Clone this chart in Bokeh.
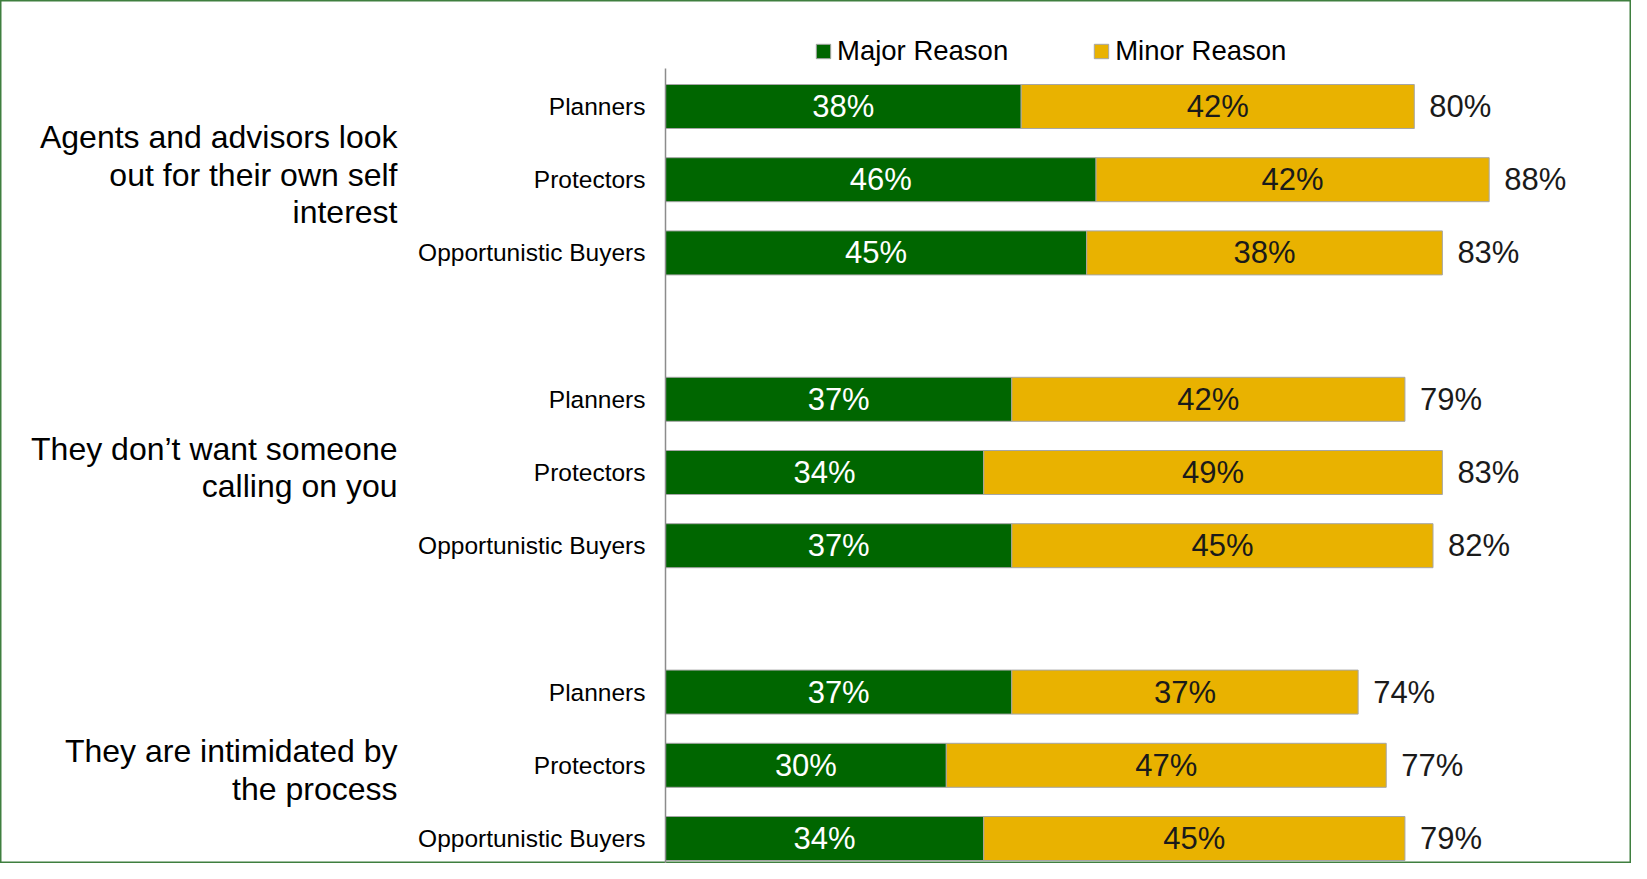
from bokeh.plotting import figure
from bokeh.models import Range1d, ColumnDataSource, Legend, LegendItem
from bokeh.core.properties import value
from bokeh.embed import file_html
from bokeh.resources import INLINE

# ---- data ----
groups = [
    "Agents and advisors look\nout for their own self\ninterest",
    "They don\u2019t want someone\ncalling on you",
    "They are intimidated by\nthe process",
]
segments = ["Planners", "Protectors", "Opportunistic Buyers"]
major = [38, 46, 45, 37, 34, 37, 37, 30, 34]
minor = [42, 42, 38, 42, 49, 45, 37, 47, 45]
series_names = ["Major Reason", "Minor Reason"]
series_colors = ["#006600", "#E9B200"]

# ---- layout constants (pixels) ----
W, H = 1631, 863
PX_PER_PCT = 9.36
AXIS_PX = 665
ROW0_PX = 106
PITCH = 73.2
GROUP_NUDGE_PX = [-5, -5, 5]
FONT = "Liberation Sans"

rows, seg_labels, totals = [], [], []
for g in range(len(groups)):
    for s, name in enumerate(segments):
        rows.append(g * 4 + s)
        seg_labels.append(name)
for a, b in zip(major, minor):
    totals.append(a + b)

src = ColumnDataSource(dict(
    row=rows,
    seg=seg_labels,
    major=major,
    minor=minor,
    total=totals,
    major_mid=[a / 2 for a in major],
    minor_mid=[a + b / 2 for a, b in zip(major, minor)],
    major_txt=[f"{a}%" for a in major],
    minor_txt=[f"{b}%" for b in minor],
    total_txt=[f"{t}%" for t in totals],
    total_x=[t + 15 / PX_PER_PCT for t in totals],
    seg_x=[-20 / PX_PER_PCT] * len(rows),
))

p = figure(
    width=W, height=H,
    x_range=Range1d(-AXIS_PX / PX_PER_PCT, (W - AXIS_PX) / PX_PER_PCT),
    y_range=Range1d((H - ROW0_PX) / PITCH, -ROW0_PX / PITCH),
    output_backend="svg", toolbar_location=None,
    x_axis_location=None, y_axis_location=None,
    min_border=0,
)
p.grid.visible = False
p.outline_line_color = "#3F7F3F"
p.outline_line_width = 2
p.background_fill_color = "white"
p.border_fill_color = "white"

bar_h = 44 / PITCH
r_major = p.hbar(y="row", left=0, right="major", height=bar_h, source=src,
                 fill_color=series_colors[0], line_color="#A6A6A6", line_width=1)
r_minor = p.hbar(y="row", left="major", right="total", height=bar_h, source=src,
                 fill_color=series_colors[1], line_color="#A6A6A6", line_width=1)

# vertical category axis line
p.segment(x0=[0], y0=[(68 - ROW0_PX) / PITCH], x1=[0], y1=[(H + 10 - ROW0_PX) / PITCH],
          line_color="#8C8C8C", line_width=1.5)

# value labels
p.text(x="major_mid", y="row", text="major_txt", source=src, text_align="center",
       text_baseline="middle", text_color="white", text_font=value(FONT),
       text_font_size="31px")
p.text(x="minor_mid", y="row", text="minor_txt", source=src, text_align="center",
       text_baseline="middle", text_color="#1A1A1A", text_font=value(FONT),
       text_font_size="31px")
p.text(x="total_x", y="row", text="total_txt", source=src, text_align="left",
       text_baseline="middle", text_color="#1A1A1A", text_font=value(FONT),
       text_font_size="31px")

# segment (category) labels
p.text(x="seg_x", y="row", text="seg", source=src, text_align="right",
       text_baseline="middle", text_color="#000000", text_font=value(FONT),
       text_font_size="24.5px")

# group labels
gsrc = ColumnDataSource(dict(
    x=[-268 / PX_PER_PCT] * len(groups),
    y=[g * 4 + 1 + GROUP_NUDGE_PX[g] / PITCH for g in range(len(groups))],
    t=groups,
))
p.text(x="x", y="y", text="t", source=gsrc, text_align="right", text_baseline="middle",
       text_color="#000000", text_font=value(FONT), text_font_size="32px",
       text_line_height=1.05)

legend = Legend(
    items=[LegendItem(label=series_names[0], renderers=[r_major]),
           LegendItem(label=series_names[1], renderers=[r_minor])],
    orientation="horizontal", location=(814, 796),
    glyph_width=18, glyph_height=18,
    label_text_font=FONT, label_text_font_size="27.5px", label_text_color="#000000",
    label_standoff=5, spacing=84, padding=0, margin=0,
    border_line_alpha=0, background_fill_alpha=0,
)
p.add_layout(legend)

open("out.html", "w").write(file_html(p, INLINE))
